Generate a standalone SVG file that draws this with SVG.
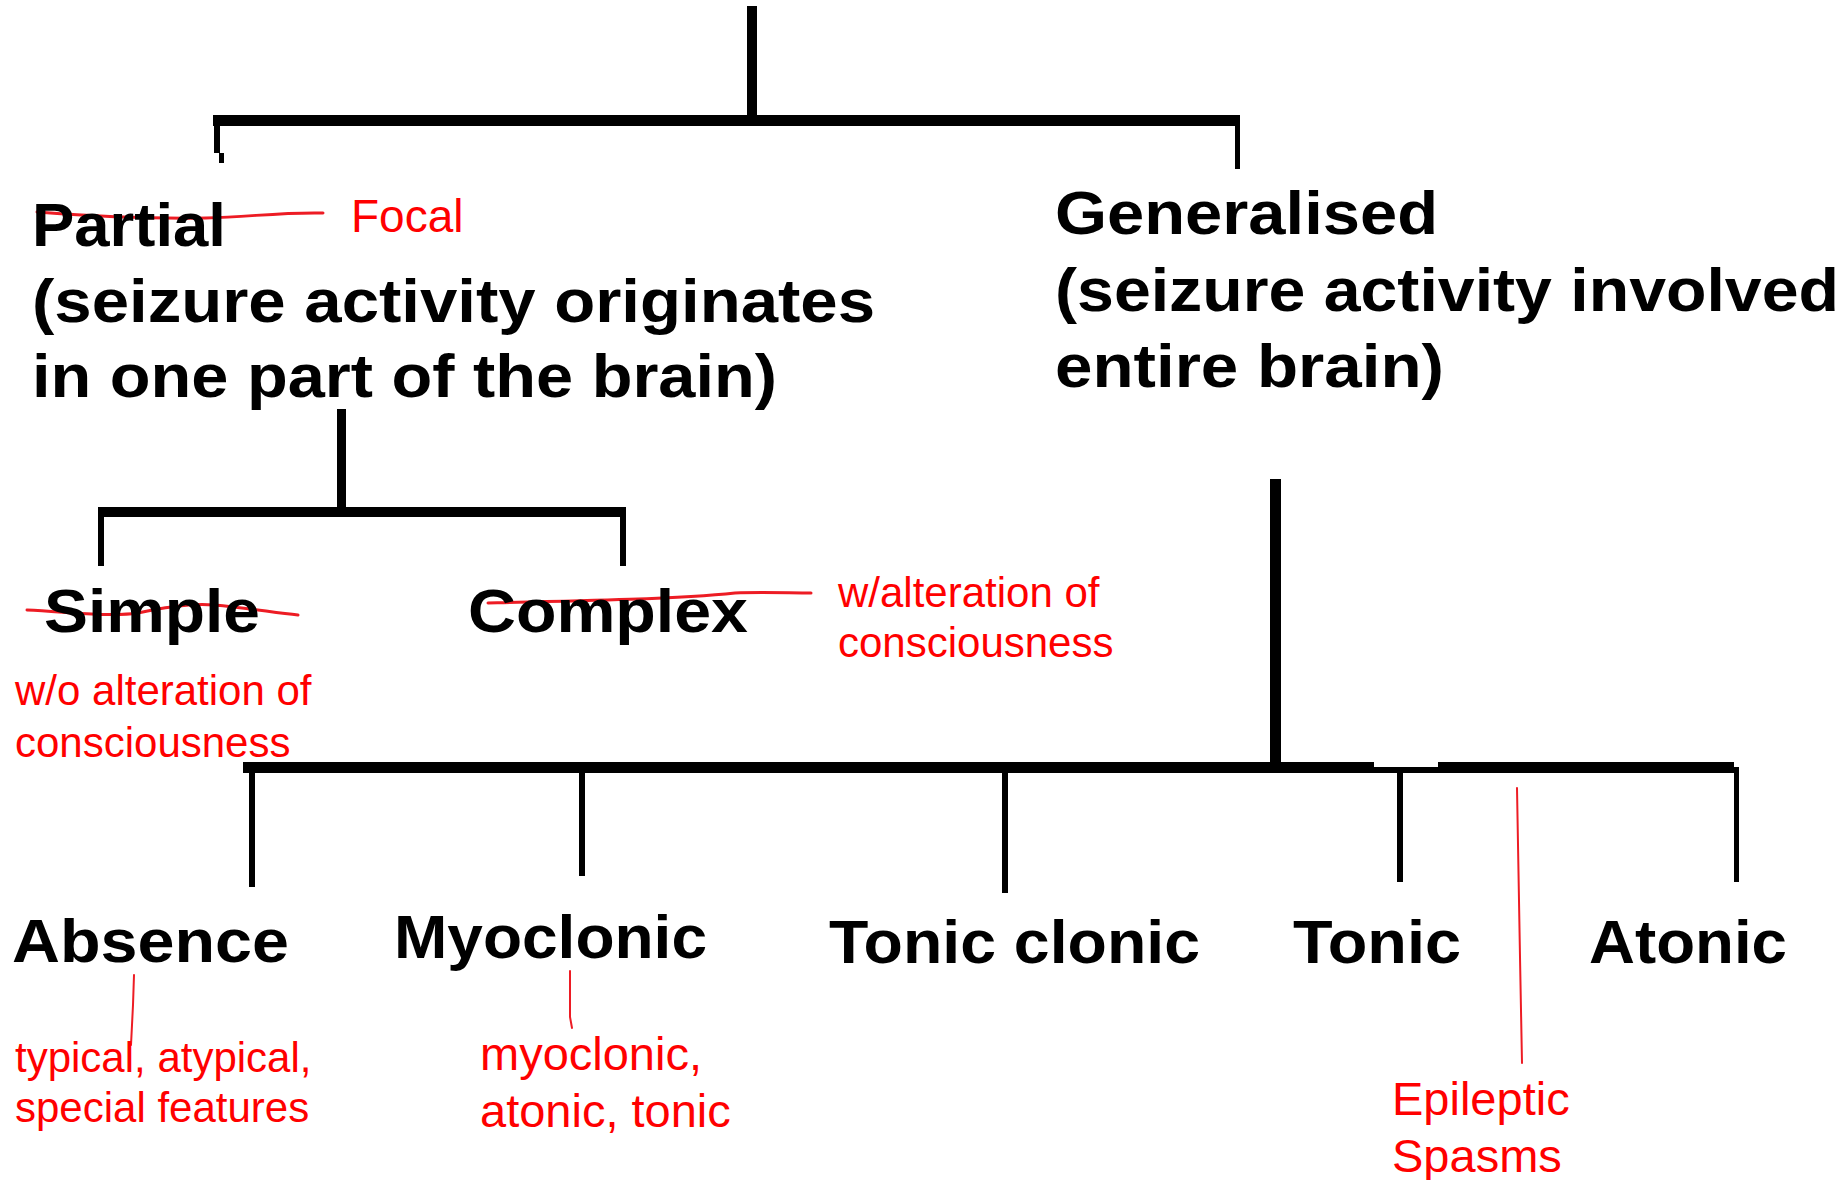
<svg xmlns="http://www.w3.org/2000/svg" width="1848" height="1180" viewBox="0 0 1848 1180">
<style>
.n{font-family:"Liberation Sans",Arial,sans-serif;font-weight:bold;font-size:61px;fill:#000}
.r{font-family:"Liberation Sans",Arial,sans-serif;font-size:42px;fill:#ff0000}
.c rect,.c polygon{fill:#000;shape-rendering:crispEdges}
.s{fill:none;stroke:#ed1c24;stroke-width:3;stroke-linecap:round;stroke-linejoin:round}
.t{fill:none;stroke:#ed1c24;stroke-width:2;stroke-linecap:round}
</style>
<rect width="1848" height="1180" fill="#fff"/>
<g id="connectors" class="c">
<rect x="747" y="6" width="10" height="115"/>
<rect x="213" y="115" width="1027" height="11"/>
<rect x="214" y="126" width="6" height="27"/>
<rect x="219" y="153" width="5" height="10"/>
<rect x="1235" y="115" width="5" height="54"/>
<rect x="337" y="409" width="9" height="100"/>
<rect x="98" y="507" width="528" height="10"/>
<rect x="98" y="507" width="6" height="59"/>
<rect x="620" y="507" width="6" height="59"/>
<rect x="1270" y="479" width="11" height="290"/>
<polygon points="243,762 1374,762 1374,767 1438,767 1438,762 1734,762 1734,773 243,773"/>
<rect x="249" y="773" width="6" height="114"/>
<rect x="579" y="773" width="6" height="103"/>
<rect x="1002" y="773" width="6" height="120"/>
<rect x="1397" y="773" width="6" height="109"/>
<rect x="1734" y="767" width="5" height="115"/>
</g>
<g id="annotation-lines">
<path class="s" d="M37,212 C90,216 150,219 206,218 C250,217 280,212 323,213"/>
<path class="s" d="M27,610 C70,612 110,617 138,613 C170,606 195,603 214,605 C250,608 275,613 298,615"/>
<path class="s" d="M488,603 C580,601 680,599 735,593 C760,592 790,593 811,593"/>
<path class="t" d="M134,975 L133,1005 L131,1045"/>
<path class="t" d="M570,971 L570,1017 L572,1028"/>
<path class="t" d="M1517,788 L1520,957 L1522,1063"/>
</g>
<g id="partial">
<text class="n" x="32" y="246" textLength="194" lengthAdjust="spacingAndGlyphs">Partial</text>
<text class="n" x="32" y="322" textLength="843" lengthAdjust="spacingAndGlyphs">(seizure activity originates</text>
<text class="n" x="32" y="397" textLength="745" lengthAdjust="spacingAndGlyphs">in one part of the brain)</text>
<text class="r" x="351" y="232" style="font-size:46px">Focal</text>
</g>
<g id="generalised">
<text class="n" x="1055" y="234" textLength="383" lengthAdjust="spacingAndGlyphs">Generalised</text>
<text class="n" x="1055" y="311" textLength="784" lengthAdjust="spacingAndGlyphs">(seizure activity involved</text>
<text class="n" x="1055" y="387" textLength="389" lengthAdjust="spacingAndGlyphs">entire brain)</text>
</g>
<g id="simple">
<text class="n" x="44" y="632" textLength="216" lengthAdjust="spacingAndGlyphs">Simple</text>
<text class="r" x="15" y="705">w/o alteration of</text>
<text class="r" x="15" y="757">consciousness</text>
</g>
<g id="complex">
<text class="n" x="468" y="632" textLength="280" lengthAdjust="spacingAndGlyphs">Complex</text>
<text class="r" x="838" y="607">w/alteration of</text>
<text class="r" x="838" y="657">consciousness</text>
</g>
<g id="absence">
<text class="n" x="12" y="962" textLength="277" lengthAdjust="spacingAndGlyphs">Absence</text>
<text class="r" x="15" y="1072">typical, atypical,</text>
<text class="r" x="15" y="1122">special features</text>
</g>
<g id="myoclonic">
<text class="n" x="394" y="958" textLength="313" lengthAdjust="spacingAndGlyphs">Myoclonic</text>
<text class="r" x="480" y="1070" style="font-size:47px">myoclonic,</text>
<text class="r" x="480" y="1127" style="font-size:47px">atonic, tonic</text>
</g>
<g id="tonic-clonic">
<text class="n" x="829" y="963" textLength="371" lengthAdjust="spacingAndGlyphs">Tonic clonic</text>
</g>
<g id="tonic">
<text class="n" x="1293" y="963" textLength="168" lengthAdjust="spacingAndGlyphs">Tonic</text>
</g>
<g id="atonic">
<text class="n" x="1589" y="963" textLength="198" lengthAdjust="spacingAndGlyphs">Atonic</text>
</g>
<g id="epileptic-spasms">
<text class="r" x="1392" y="1115" style="font-size:47px">Epileptic</text>
<text class="r" x="1392" y="1172" style="font-size:47px">Spasms</text>
</g>
</svg>
